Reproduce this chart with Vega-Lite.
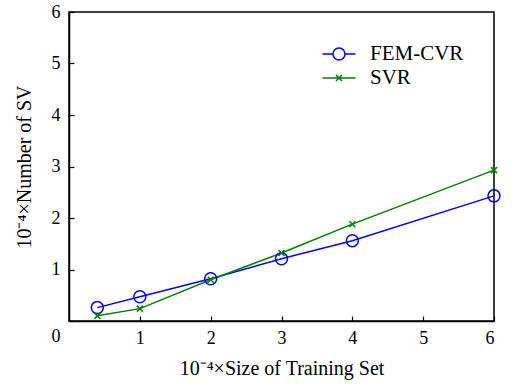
{
  "$schema": "https://vega.github.io/schema/vega-lite/v6.json",
  "width": 425,
  "height": 309,
  "autosize": "none",
  "padding": {"left": 69, "top": 12, "right": 22, "bottom": 66},
  "background": "white",
  "config": {
    "font": "Liberation Serif",
    "view": {"stroke": "black", "strokeWidth": 1.5},
    "axis": {
      "grid": false,
      "domainColor": "black",
      "domainWidth": 1.5,
      "tickColor": "black",
      "tickWidth": 1.2,
      "tickSize": -5,
      "labelFont": "Liberation Serif",
      "labelFontSize": 18,
      "labelColor": "black",
      "titleFont": "Liberation Serif",
      "titleFontSize": 20,
      "titleFontWeight": "normal",
      "titleColor": "black"
    }
  },
  "data": {
    "values": [
      {"size": 0.4, "sv": 0.26, "method": "FEM-CVR"},
      {"size": 1, "sv": 0.47, "method": "FEM-CVR"},
      {"size": 2, "sv": 0.82, "method": "FEM-CVR"},
      {"size": 3, "sv": 1.21, "method": "FEM-CVR"},
      {"size": 4, "sv": 1.56, "method": "FEM-CVR"},
      {"size": 6, "sv": 2.43, "method": "FEM-CVR"},
      {"size": 0.4, "sv": 0.10, "method": "SVR"},
      {"size": 1, "sv": 0.24, "method": "SVR"},
      {"size": 2, "sv": 0.80, "method": "SVR"},
      {"size": 3, "sv": 1.32, "method": "SVR"},
      {"size": 4, "sv": 1.88, "method": "SVR"},
      {"size": 6, "sv": 2.93, "method": "SVR"}
    ]
  },
  "encoding": {
    "x": {
      "field": "size",
      "type": "quantitative",
      "scale": {"domain": [0, 6], "nice": false, "zero": true},
      "axis": {
        "values": [1, 2, 3, 4, 5, 6],
        "labelPadding": 13,
        "labelAngle": 0,
        "titlePadding": 11,
        "title": "10⁻⁴×Size of Training Set"
      }
    },
    "y": {
      "field": "sv",
      "type": "quantitative",
      "scale": {"domain": [0, 6], "nice": false},
      "axis": {
        "values": [0, 1, 2, 3, 4, 5, 6],
        "labelPadding": 14,
        "labelOffset": {"condition": {"test": "datum.value == 0", "value": 15}, "value": 0},
        "titlePadding": 17,
        "title": "10⁻⁴×Number of SV"
      }
    },
    "color": {
      "field": "method",
      "type": "nominal",
      "scale": {"domain": ["FEM-CVR", "SVR"], "range": ["#0000ff", "#008000"]},
      "legend": {
        "title": null,
        "orient": "none",
        "legendX": 259,
        "legendY": 31,
        "labelFont": "Liberation Serif",
        "labelFontSize": 21,
        "labelColor": "black",
        "labelLimit": 300,
        "symbolSize": 400,
        "symbolStrokeWidth": 1.5,
        "rowPadding": 3,
        "labelOffset": 20,
        "encode": {
          "symbols": {
            "update": {
              "shape": {"signal": "datum.value == 'FEM-CVR' ? 'M-1.65,0L-0.6,0M0.6,0L1.65,0M0.6,0A0.6,0.6 0 1,1 -0.6,0A0.6,0.6 0 1,1 0.6,0' : 'M-1.65,0L1.65,0M-0.3,-0.3L0.3,0.3M-0.3,0.3L0.3,-0.3'"},
              "fill": {"value": "transparent"},
              "strokeWidth": {"value": 1.5}
            }
          }
        }
      }
    }
  },
  "layer": [
    {
      "mark": {"type": "line", "strokeWidth": 1.5}
    },
    {
      "transform": [{"filter": "datum.method == 'FEM-CVR'"}],
      "mark": {"type": "point", "shape": "circle", "size": 144, "filled": false, "strokeWidth": 1.5, "opacity": 1}
    },
    {
      "transform": [{"filter": "datum.method == 'SVR'"}],
      "mark": {"type": "point", "shape": "M-1,-1L1,1M-1,1L1,-1", "size": 36, "filled": false, "strokeWidth": 1.5, "opacity": 1}
    }
  ]
}
